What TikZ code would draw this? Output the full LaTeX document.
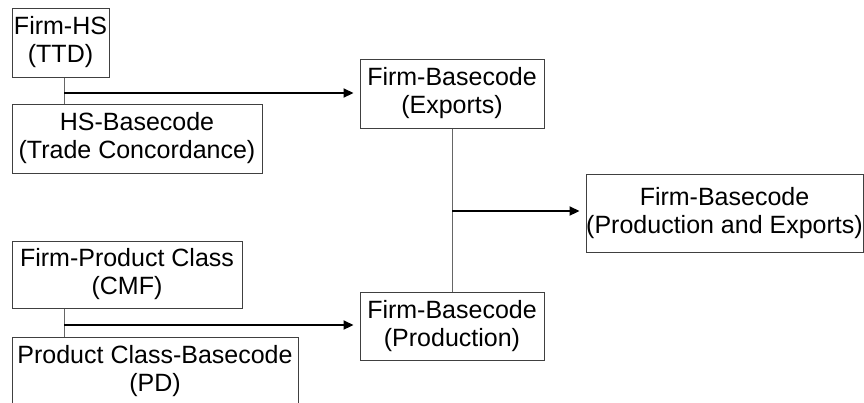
\documentclass[tikz,border=0pt]{standalone}
\usepackage{fontspec}
\setmainfont{Liberation Sans}
\usetikzlibrary{arrows.meta}

\begin{document}
\begin{tikzpicture}[x=1pt,y=-1pt,
  box/.style={draw=black!75,line width=1pt,inner sep=0,align=center,
    font=\fontsize{25}{28}\selectfont},
  link/.style={draw=black!60,line width=1pt},
  feed/.style={draw=black,line width=2.2pt,-{Triangle[length=10pt,width=9pt]},shorten >=6pt}]
\useasboundingbox (0,0) rectangle (864,402);
\clip (0,0) rectangle (864,402);
% source tables
\node[box,minimum width=97,minimum height=69] (firmhs) at (60.5,42.5) {Firm-HS\\(TTD)};
\node[box,minimum width=250,minimum height=69] (hsbase) at (137,138.5) {HS-Basecode\\(Trade Concordance)};
\node[box,minimum width=230,minimum height=67] (firmpc) at (127,274.5) {Firm-Product Class\\(CMF)};
\node[box,minimum width=286,minimum height=68] (pcbase) at (155,371) {Product Class-Basecode\\(PD)};
% merged tables
\node[box,minimum width=184,minimum height=69] (firmexp) at (452,93.5) {Firm-Basecode\\(Exports)};
\node[box,minimum width=184,minimum height=68] (firmprod) at (452,326) {Firm-Basecode\\(Production)};
\node[box,minimum width=277,minimum height=78] (firmall) at (724.5,213) {Firm-Basecode\\(Production and Exports)};
% joins
\coordinate (hsjoin) at (64,93);
\coordinate (pcjoin) at (64,325);
\coordinate (alljoin) at (452,211);
\draw[link] (hsjoin |- firmhs.south) -- (hsjoin |- hsbase.north);
\draw[link] (pcjoin |- firmpc.south) -- (pcjoin |- pcbase.north);
\draw[link] (firmexp.south) -- (firmprod.north);
\draw[feed] (hsjoin) -- (hsjoin -| firmexp.west);
\draw[feed] (pcjoin) -- (pcjoin -| firmprod.west);
\draw[feed] (alljoin) -- (alljoin -| firmall.west);
\end{tikzpicture}
\end{document}
